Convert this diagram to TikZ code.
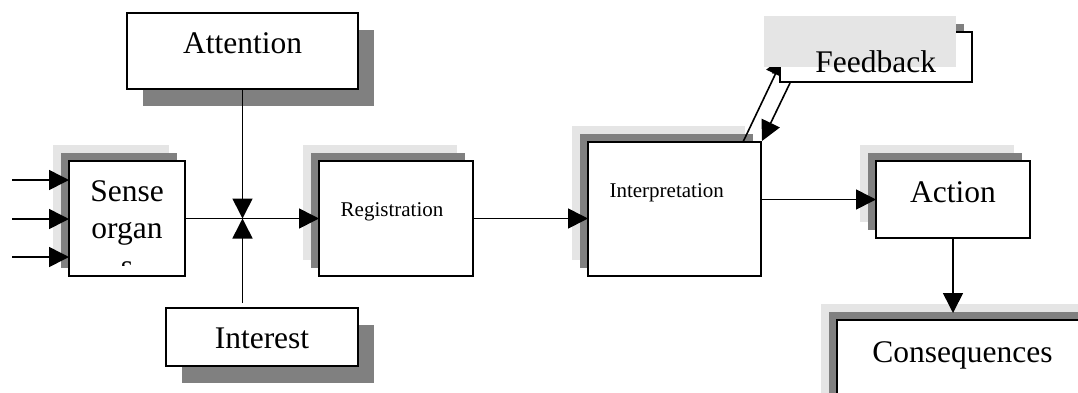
\documentclass[tikz,border=0pt]{standalone}
\usepackage{fontspec}
\setmainfont{Liberation Serif}
\usetikzlibrary{arrows.meta,shadows,calc}
\definecolor{lgray}{RGB}{229,229,229}
\definecolor{dgray}{RGB}{128,128,128}
\tikzset{
 box/.style={draw=black, line width=2pt, fill=white, inner sep=0pt, outer sep=0pt},
 wshadow/.style={copy shadow={shadow xshift=-16pt, shadow yshift=16pt, fill=lgray, draw=none},
                 copy shadow={shadow xshift=-8pt, shadow yshift=8pt, fill=dgray, draw=none}},
 dshadow/.style={copy shadow={shadow xshift=16pt, shadow yshift=-17pt, fill=dgray, draw=none}},
 big/.style={font=\fontsize{31.5}{37}\selectfont, inner sep=0pt, anchor=base},
 small/.style={font=\fontsize{21}{25}\selectfont, inner sep=0pt, anchor=base},
 arr/.style={line width=1.6pt, -{Triangle[length=20pt,width=20pt]}},
}
\begin{document}
\begin{tikzpicture}[x=1pt,y=-1pt]
\useasboundingbox (0,0) rectangle (1078,392);
\clip (0,0) rectangle (1078,392);
\fill[white] (0,0) rectangle (1078,392);

% boxes
\node[box,dshadow,minimum width=231pt,minimum height=76pt] (att) at (242.5,51) {};
\node[box,dshadow,minimum width=192pt,minimum height=58pt] (int) at (262,337) {};
\node[box,wshadow,minimum width=116pt,minimum height=115pt] (sense) at (127,218.5) {};
\node[box,wshadow,minimum width=154pt,minimum height=115pt] (reg) at (396,218.5) {};
\node[box,wshadow,minimum width=173pt,minimum height=134pt] (interp) at (674.5,209) {};
\node[box,wshadow,minimum width=154pt,minimum height=77pt] (act) at (953,199.5) {};
\node[box,wshadow,minimum width=262pt,minimum height=90pt] (cons) at (968,365) {};

% texts
\node[big] (tatt) at (242.5,53) {Attention};
\node[big] (tint) at (262,348) {Interest};
\begin{scope}
\clip (69,161) rectangle (185,265);
\node[big] (ts1) at (127,201) {Sense};
\node[big] (ts2) at (127,238) {organ};
\node[big] (ts3) at (127,276) {s};
\end{scope}
\node[small] (treg) at (392,216) {Registration};
\node[small] (tinterp) at (666.7,197) {Interpretation};
\node[big] (tact) at (953,202) {Action};
\node[big] (tcons) at (962.5,362) {Consequences};

% feedback box (odd layering)
\path node[minimum width=192pt, minimum height=50pt, inner sep=0pt, outer sep=0pt] (fb) at (876,57) {};
\fill[dgray] ($(fb.north west)+(-8,-8)$) rectangle ($(fb.south east)+(-8,-8)$);
\draw[arr] ($(interp.north west)+(155,0)$) -- ($(fb.south west)+(4,-26)$);
\draw[arr] ($(fb.south west)+(10,1)$) -- ($(interp.north east)+(1,-1)$);
\filldraw[fill=white, draw=black, line width=2pt] (fb.north west) rectangle (fb.south east);
\fill[lgray] ($(fb.north west)+(-16,-16)$) rectangle ($(fb.south east)+(-16,-15)$);
\node[big] (tfb) at (875.8,72) {Feedback};

% connectors
\coordinate (i1) at (12,180);
\coordinate (i2) at (12,219);
\coordinate (i3) at (12,257);
\draw[arr] (i1) -- (i1 -| sense.west);
\draw[arr] (i2) -- (i2 -| sense.west);
\draw[arr] (i3) -- (i3 -| sense.west);
\coordinate (junc) at (att.south |- sense.east);
\draw[arr] (sense.east) -- (reg.west);
\draw[arr] (att.south) -- (junc);
\draw[arr, shorten <=5pt] (junc |- int.north) -- (junc);
\draw[arr] (reg.east) -- (reg.east -| interp.west);
\draw[arr] (interp.east |- act.west) -- (act.west);
\draw[arr, shorten >=7pt] (act.south) -- (act.south |- cons.north);
\end{tikzpicture}
\end{document}
